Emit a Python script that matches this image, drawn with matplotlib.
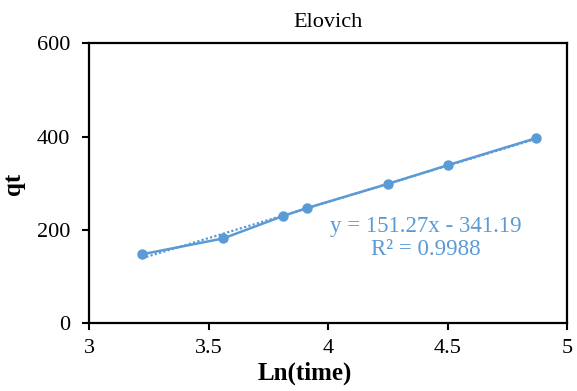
import matplotlib
matplotlib.use("Agg")
import matplotlib.pyplot as plt
import numpy as np

# Elovich kinetic data
ln_time = [3.22, 3.56, 3.81, 3.91, 4.25, 4.50, 4.87]
qt = [148, 182, 230, 247, 299, 339, 397]
eq_text = "y = 151.27x - 341.19\nR² = 0.9988"

blue = "#5B9BD5"
plt.rcParams["font.family"] = ["Liberation Serif", "DejaVu Serif"]

fig = plt.figure(figsize=(5.77, 3.91), dpi=100)
ax = fig.add_axes([0.155, 0.173, 0.828, 0.716])

ax.plot(ln_time, qt, color=blue, lw=1.8, marker="o", ms=6.5, zorder=3)

# linear trendline (dotted), like excel
k, b = np.polyfit(ln_time, qt, 1)
xs = np.array([ln_time[0], ln_time[-1]])
ax.plot(xs, k * xs + b, color=blue, lw=1.6, ls=(0, (1, 1)), zorder=2)

ax.text(4.41, 183, eq_text, color=blue, fontsize=16.5, ha="center",
        va="center", linespacing=1.1)

ax.set_xlim(3, 5)
ax.set_ylim(0, 600)
ax.set_xticks([3, 3.5, 4, 4.5, 5])
ax.set_xticklabels(["3", "3.5", "4", "4.5", "5"])
ax.set_yticks([0, 200, 400, 600])
ax.tick_params(labelsize=16, direction="out", length=5, width=1.5)
ax.tick_params(axis="y", pad=9)
ax.tick_params(axis="x", pad=6)
for s in ax.spines.values():
    s.set_linewidth(1.6)

ax.set_title("Elovich", fontsize=16, pad=12)
ax.set_xlabel("Ln(time)", fontsize=18, fontweight="bold")
ax.xaxis.set_label_coords(0.451, -0.135)
ax.set_ylabel("qt", fontsize=18, fontweight="bold")
ax.yaxis.set_label_coords(-0.135, 0.5)

fig.savefig("out.png", dpi=100)
